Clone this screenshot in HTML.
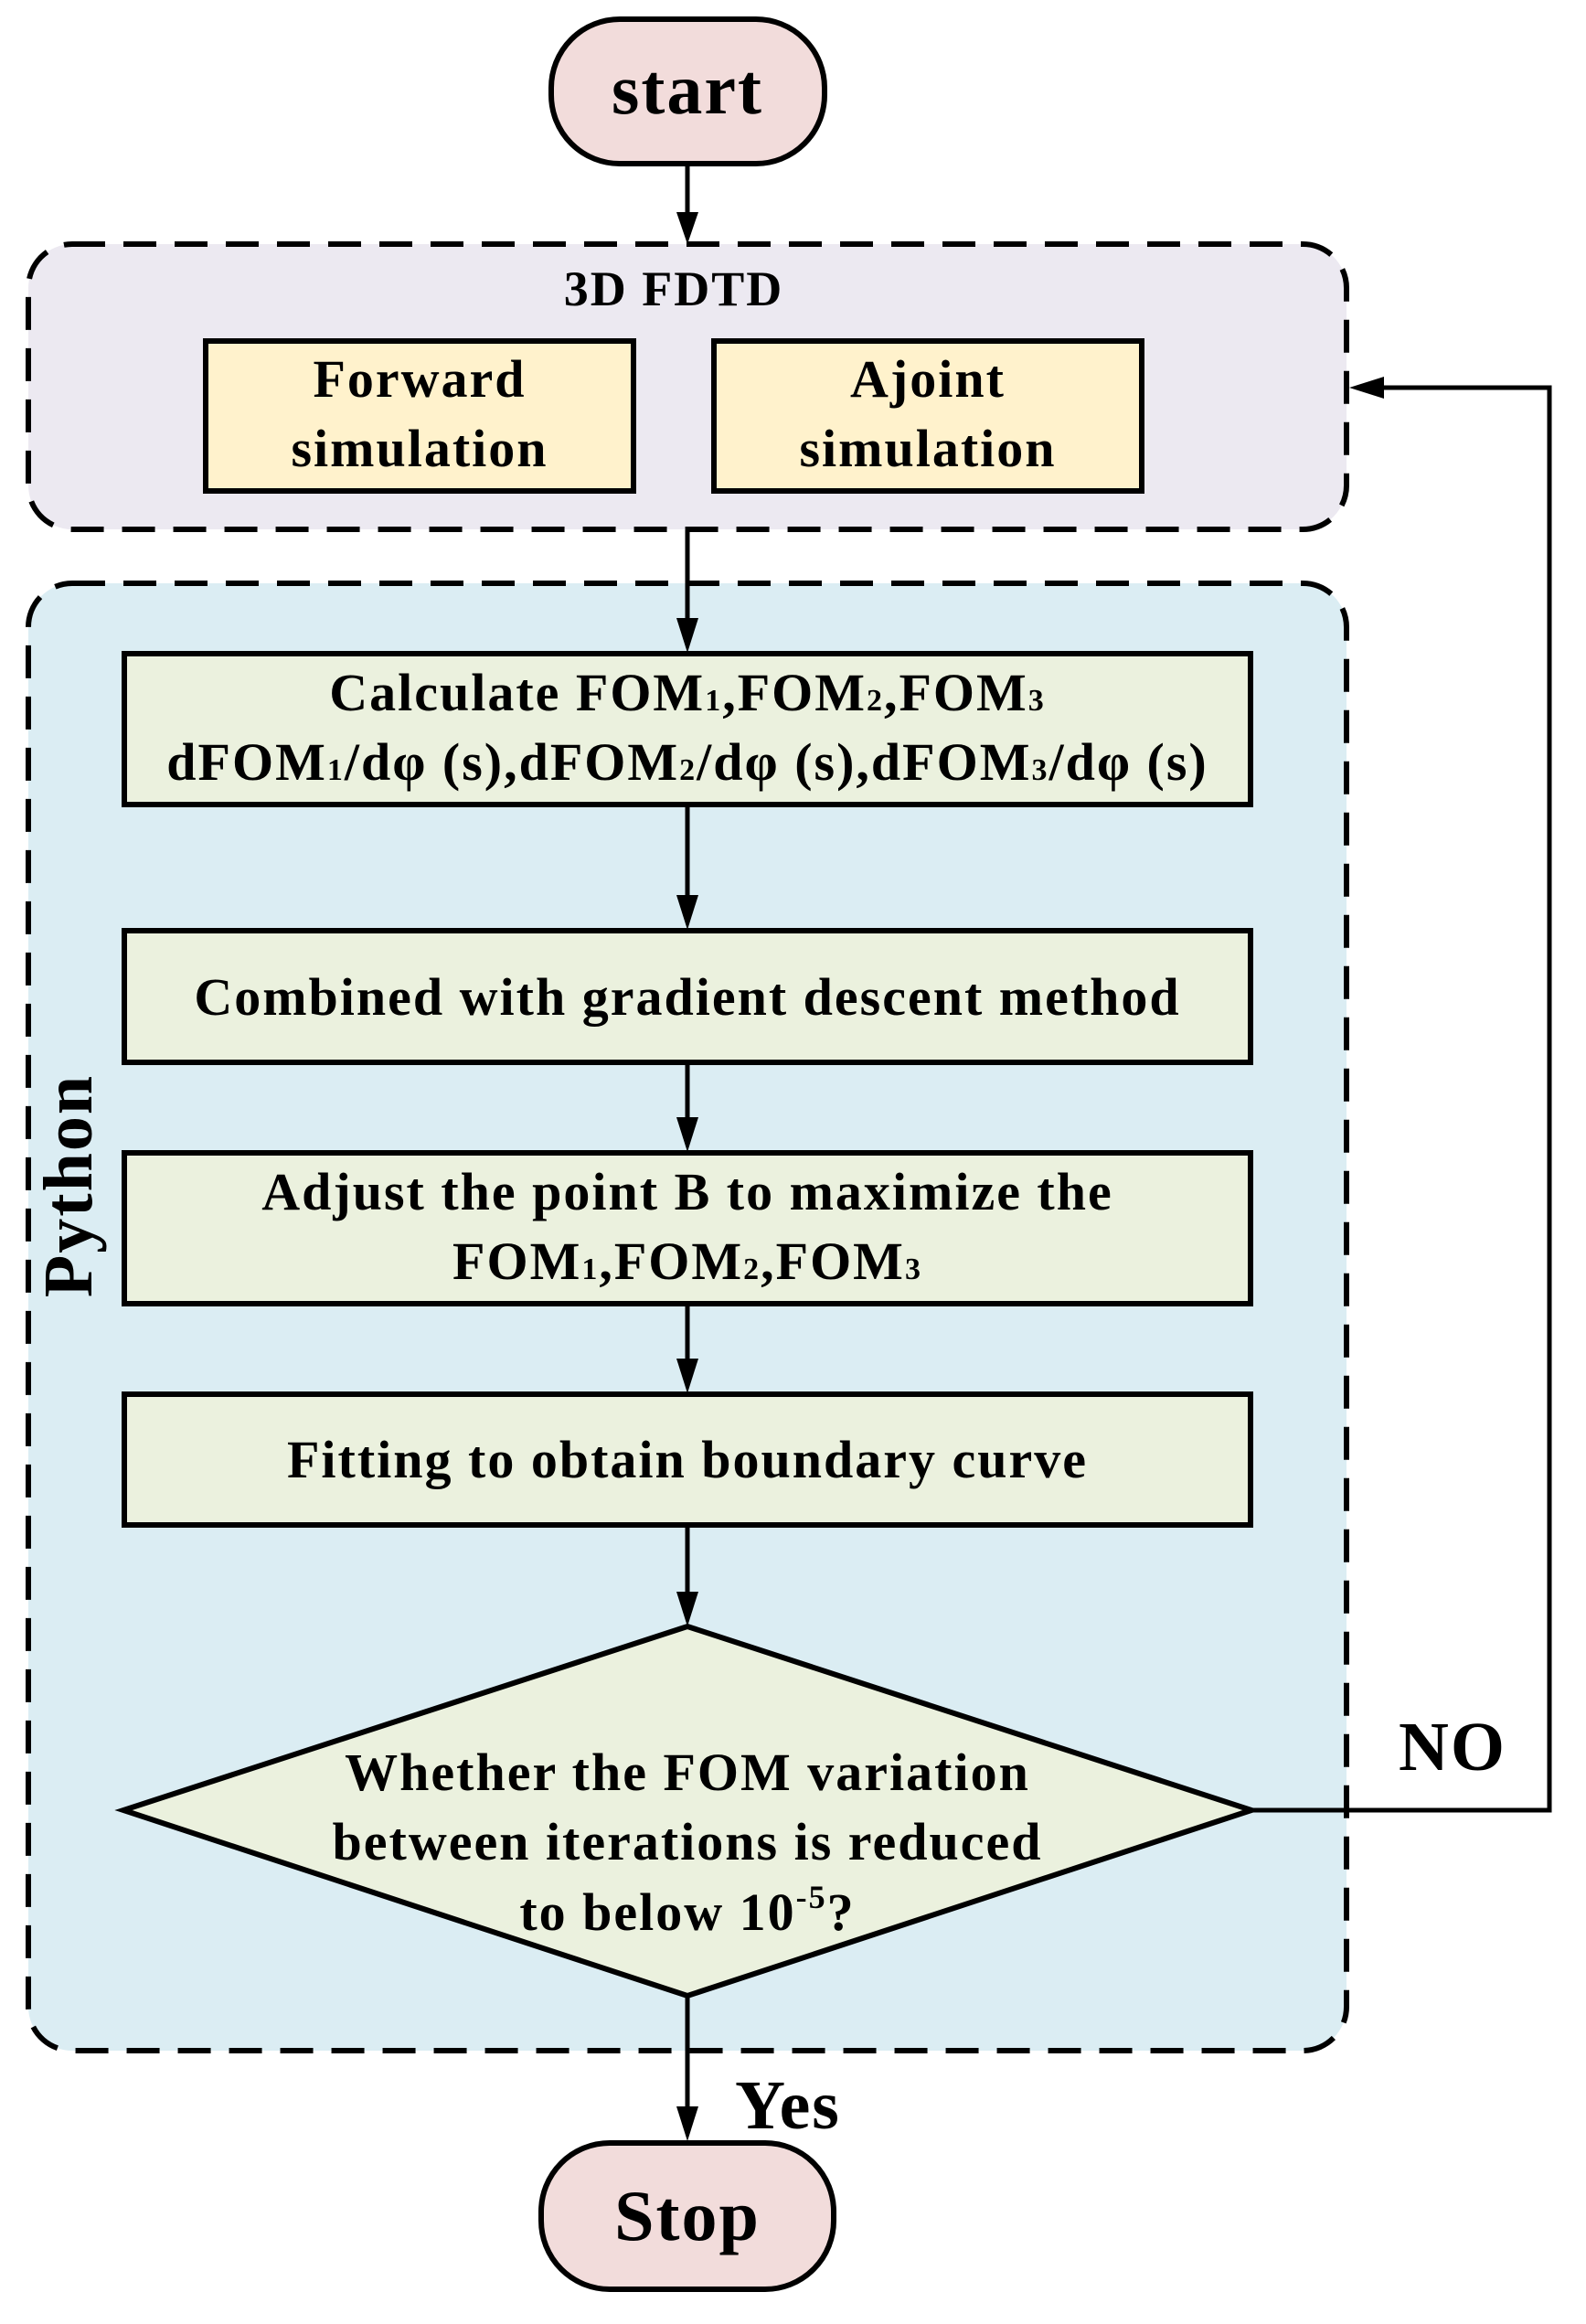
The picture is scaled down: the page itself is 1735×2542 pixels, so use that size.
<!DOCTYPE html>
<html><head><meta charset="utf-8"><style>
html,body{margin:0;padding:0;background:#fff;}
svg{display:block;}
text{font-family:"Liberation Serif","DejaVu Serif",serif;font-weight:bold;fill:#000;letter-spacing:2px;}
</style></head><body>
<svg width="1735" height="2542" viewBox="0 0 1735 2542" xmlns="http://www.w3.org/2000/svg">
<rect x="31" y="267" width="1442" height="312" rx="48" fill="#ece9f1" stroke="#000" stroke-width="6" stroke-dasharray="36,20"/>
<rect x="31" y="638" width="1442" height="1605" rx="48" fill="#dbedf3" stroke="#000" stroke-width="6" stroke-dasharray="36,20"/>

<rect x="603" y="21" width="299" height="158" rx="75" fill="#f2dcdb" stroke="#000" stroke-width="6"/>
<text x="752" y="124" font-size="78" text-anchor="middle">start</text>

<g stroke="#000" stroke-width="5" fill="none">
<line x1="752" y1="180" x2="752" y2="240"/>
<line x1="752" y1="580" x2="752" y2="680"/>
<line x1="752" y1="881" x2="752" y2="983"/>
<line x1="752" y1="1163" x2="752" y2="1226"/>
<line x1="752" y1="1427" x2="752" y2="1490"/>
<line x1="752" y1="1669" x2="752" y2="1745"/>
<line x1="752" y1="2183" x2="752" y2="2308"/>
<polyline points="1369,1980 1695,1980 1695,424 1510,424"/>
</g>
<g fill="#000">
<polygon points="740,232 764,232 752,267"/>
<polygon points="740,676 764,676 752,714"/>
<polygon points="740,979 764,979 752,1017"/>
<polygon points="740,1222 764,1222 752,1260"/>
<polygon points="740,1486 764,1486 752,1524"/>
<polygon points="740,1741 764,1741 752,1779"/>
<polygon points="740,2304 764,2304 752,2342"/>
<polygon points="1514,412 1514,436 1476,424"/>
</g>

<text x="737" y="334" font-size="54" text-anchor="middle">3D FDTD</text>

<rect x="225" y="373" width="468" height="164" fill="#fff2cc" stroke="#000" stroke-width="6"/>
<text x="459" y="434" font-size="58" text-anchor="middle">Forward</text>
<text x="459" y="510" font-size="58" text-anchor="middle">simulation</text>
<rect x="781" y="373" width="468" height="164" fill="#fff2cc" stroke="#000" stroke-width="6"/>
<text x="1015" y="434" font-size="58" text-anchor="middle">Ajoint</text>
<text x="1015" y="510" font-size="58" text-anchor="middle">simulation</text>

<text transform="translate(100,1297) rotate(-90)" font-size="76" text-anchor="middle">Python</text>

<rect x="136" y="715" width="1232" height="165" fill="#ebf1de" stroke="#000" stroke-width="6"/>
<text x="752" y="777" font-size="58" text-anchor="middle">Calculate FOM<tspan font-size="34">1</tspan>,FOM<tspan font-size="34">2</tspan>,FOM<tspan font-size="34">3</tspan></text>
<text x="752" y="853" font-size="58" text-anchor="middle">dFOM<tspan font-size="34">1</tspan>/dφ (s),dFOM<tspan font-size="34">2</tspan>/dφ (s),dFOM<tspan font-size="34">3</tspan>/dφ (s)</text>

<rect x="136" y="1018" width="1232" height="144" fill="#ebf1de" stroke="#000" stroke-width="6"/>
<text x="752" y="1110" font-size="58" text-anchor="middle">Combined with gradient descent method</text>

<rect x="136" y="1261" width="1232" height="165" fill="#ebf1de" stroke="#000" stroke-width="6"/>
<text x="752" y="1323" font-size="58" text-anchor="middle">Adjust the point B to maximize the</text>
<text x="752" y="1399" font-size="58" text-anchor="middle">FOM<tspan font-size="34">1</tspan>,FOM<tspan font-size="34">2</tspan>,FOM<tspan font-size="34">3</tspan></text>

<rect x="136" y="1525" width="1232" height="143" fill="#ebf1de" stroke="#000" stroke-width="6"/>
<text x="752" y="1616" font-size="58" text-anchor="middle">Fitting to obtain boundary curve</text>

<polygon points="752,1779 1369,1980 752,2183 135,1980" fill="#ebf1de" stroke="#000" stroke-width="6"/>
<text x="752" y="1958" font-size="58" text-anchor="middle">Whether the FOM variation</text>
<text x="752" y="2034" font-size="58" text-anchor="middle">between iterations is reduced</text>
<text x="752" y="2111" font-size="58" text-anchor="middle">to below 10<tspan font-size="36" dy="-24">-5</tspan><tspan dy="24">?</tspan></text>

<text x="1589" y="1936" font-size="76" text-anchor="middle">NO</text>
<text x="862" y="2328" font-size="76" text-anchor="middle">Yes</text>

<rect x="592" y="2344" width="320" height="160" rx="75" fill="#f2dcdb" stroke="#000" stroke-width="6"/>
<text x="752" y="2450" font-size="78" text-anchor="middle">Stop</text>
</svg>
</body></html>
